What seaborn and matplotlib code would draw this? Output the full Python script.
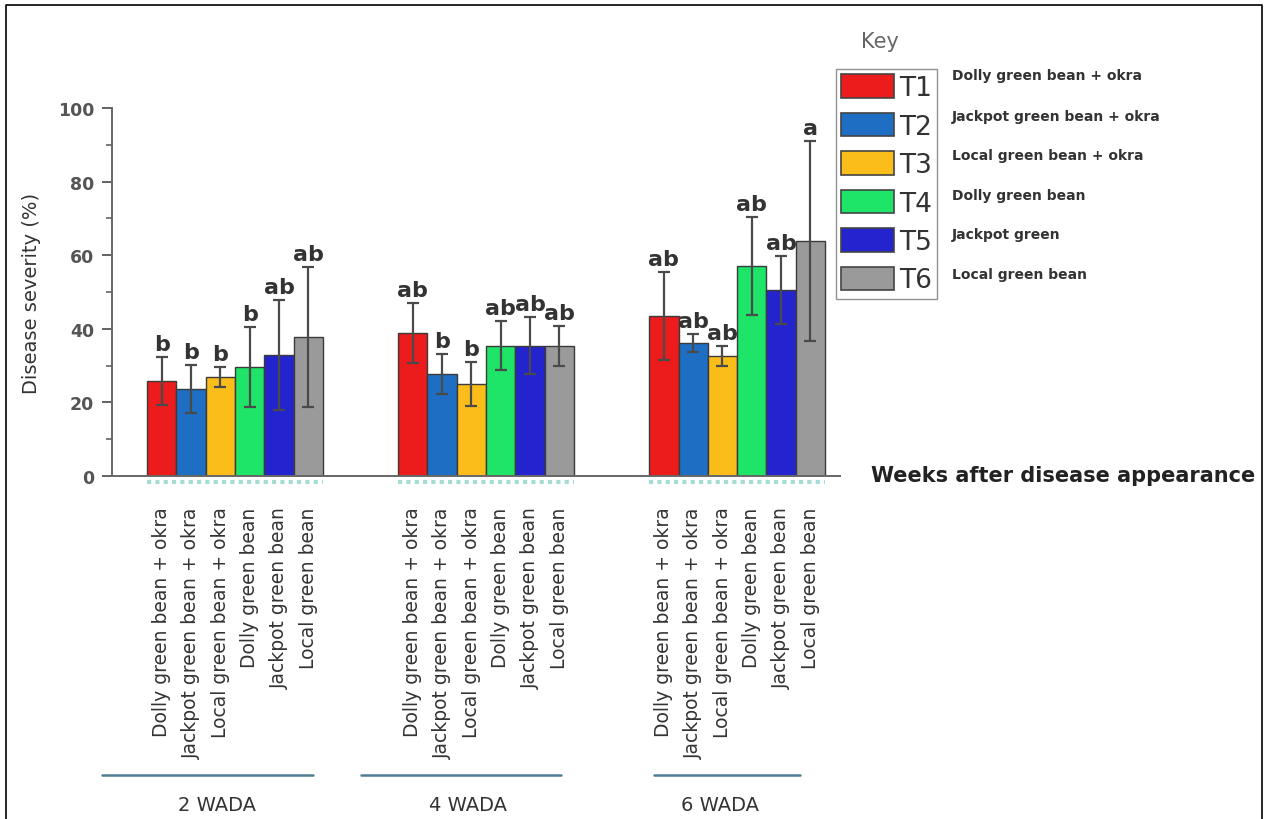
import numpy as np
import pandas as pd
import matplotlib
matplotlib.use("Agg")
import matplotlib.pyplot as plt
import matplotlib.transforms as mtransforms
from matplotlib.patches import Patch
from matplotlib.lines import Line2D
from matplotlib.ticker import MultipleLocator
import seaborn as sns

# data
weeks = ["2 WADA", "4 WADA", "6 WADA"]
codes = ["T1", "T2", "T3", "T4", "T5", "T6"]
key_names = [
    "Dolly green bean + okra",
    "Jackpot green bean + okra",
    "Local green bean + okra",
    "Dolly green bean",
    "Jackpot green",
    "Local green bean",
]
bar_names = [
    "Dolly green bean + okra",
    "Jackpot green bean + okra",
    "Local green bean + okra",
    "Dolly green bean",
    "Jackpot green bean",
    "Local green bean",
]
colors = ["#ec1c1c", "#1e6ec4", "#fbbd19", "#1ee468", "#2424cf", "#9a9a9a"]

severity = {
    "T1": [25.8, 38.9, 43.5],
    "T2": [23.6, 27.7, 36.1],
    "T3": [26.9, 25.0, 32.6],
    "T4": [29.6, 35.4, 57.1],
    "T5": [32.9, 35.4, 50.5],
    "T6": [37.8, 35.4, 63.9],
}
sd = {
    "T1": [6.5, 8.1, 11.9],
    "T2": [6.6, 5.5, 2.5],
    "T3": [2.7, 6.0, 2.7],
    "T4": [10.9, 6.7, 13.3],
    "T5": [14.9, 7.8, 9.3],
    "T6": [19.0, 5.4, 27.1],
}
letters = {
    "T1": ["b", "ab", "ab"],
    "T2": ["b", "b", "ab"],
    "T3": ["b", "b", "ab"],
    "T4": ["b", "ab", "ab"],
    "T5": ["ab", "ab", "ab"],
    "T6": ["ab", "ab", "a"],
}

rows = []
for c in codes:
    for w, v in zip(weeks, severity[c]):
        rows.append({"week": w, "code": c, "severity": v})
df = pd.DataFrame(rows)

sns.set_style("white")
plt.rcParams["font.family"] = ["DejaVu Sans"]

W, H = 1266, 820
fig = plt.figure(figsize=(W / 100, H / 100), dpi=100)
ax = fig.add_axes([112 / W, 1 - 477 / H, 728 / W, 368 / H])

sns.barplot(
    data=df, x="week", y="severity", hue="code",
    order=weeks, hue_order=codes, palette=colors,
    width=0.7, errorbar=None, saturation=1,
    edgecolor="#3a3a3a", linewidth=1.0, legend=False, ax=ax,
)

# error bars and significance letters
bar_conts = list(ax.containers)
tick_pos, tick_lab = [], []
for i, cont in enumerate(bar_conts):
    c = codes[i]
    for j, bar in enumerate(cont):
        xc = bar.get_x() + bar.get_width() / 2
        h = bar.get_height()
        ax.errorbar(xc, h, yerr=sd[c][j], color="#4a4a4a", lw=1.6,
                    capsize=4, capthick=1.6, zorder=5)
        ax.text(xc, h + sd[c][j] + 0.8, letters[c][j], ha="center", va="bottom",
                fontsize=16, fontweight="bold", color="#333333")
        tick_pos.append(xc)
        tick_lab.append(bar_names[i])

order = np.argsort(tick_pos)
ax.set_xticks(np.array(tick_pos)[order])
ax.set_xticklabels(np.array(tick_lab)[order], rotation=90, fontsize=13.5,
                   color="#333333")
ax.tick_params(axis="x", length=0, pad=22)

ax.set_xlim(-0.49, 2.41)
ax.set_ylim(0, 100)
ax.yaxis.set_major_locator(MultipleLocator(20))
ax.yaxis.set_minor_locator(MultipleLocator(10))
ax.tick_params(axis="y", which="major", direction="out", length=7, width=1.3,
               color="#555555", labelsize=12.5, labelcolor="#555555", left=True,
               pad=6)
ax.tick_params(axis="y", which="minor", direction="out", length=4, width=1.1,
               color="#555555", left=True)
for lab in ax.get_yticklabels():
    lab.set_fontweight("bold")
ax.set_xlabel("")
ax.set_ylabel("Disease severity (%)", fontsize=14, color="#333333",
              family=["Liberation Sans Narrow", "DejaVu Sans"], labelpad=12)
sns.despine(ax=ax)
for s in ["left", "bottom"]:
    ax.spines[s].set_color("#666666")
    ax.spines[s].set_linewidth(1.4)

# faint dotted band under each group
trans = mtransforms.blended_transform_factory(ax.transData, fig.transFigure)
for k in range(len(weeks)):
    ax.plot([k - 0.35, k + 0.35], [1 - 483 / H] * 2, transform=trans,
            color="#a6dcd6", lw=3, ls=(0, (1, 1)), clip_on=False)

# group lines and WADA labels
group_spans = [(-0.53, 0.31), (-0.50, 0.30), (-0.33, 0.25)]
for k, (a, b) in enumerate(group_spans):
    ax.plot([k + a, k + b], [1 - 776 / H] * 2, transform=trans,
            color="#4f7f93", lw=1.8, clip_on=False)
    ax.text(k - 0.07, 1 - 806 / H, weeks[k], transform=trans, ha="center",
            va="center", fontsize=14, color="#333333")

fig.text(1255 / W, 1 - 476 / H, "Weeks after disease appearance", ha="right",
         va="center", fontsize=15, fontweight="bold", color="#222222")

# key
handles = [Patch(facecolor=col, edgecolor="#444444", linewidth=1.2) for col in colors]
leg = fig.legend(
    handles, codes, loc="upper left", bbox_to_anchor=(836 / W, 1 - 70 / H),
    bbox_transform=fig.transFigure, frameon=True, fancybox=False,
    prop={"family": ["Liberation Sans Narrow", "DejaVu Sans"], "size": 19},
    handlelength=2.0, handleheight=1.0, labelspacing=0.44,
    handletextpad=0.2, borderpad=0.2, borderaxespad=0,
)
leg.get_frame().set_edgecolor("#777777")
leg.get_frame().set_linewidth(1.0)
for t in leg.get_texts():
    t.set_color("#333333")

fig.text(880 / W, 1 - 42 / H, "Key", ha="center", va="center", fontsize=15,
         color="#666666")
desc_y = [76, 117, 156, 196, 235, 275]
for name, yy in zip(key_names, desc_y):
    fig.text(952 / W, 1 - yy / H, name, ha="left", va="center", fontsize=10,
             fontweight="bold", color="#333333")

# outer frame
fig.add_artist(Line2D([6 / W, 6 / W, 1262 / W, 1262 / W],
                      [0, 1 - 6 / H, 1 - 6 / H, 0],
                      transform=fig.transFigure, color="black", lw=1.2))

fig.savefig("out.png", dpi=100)
